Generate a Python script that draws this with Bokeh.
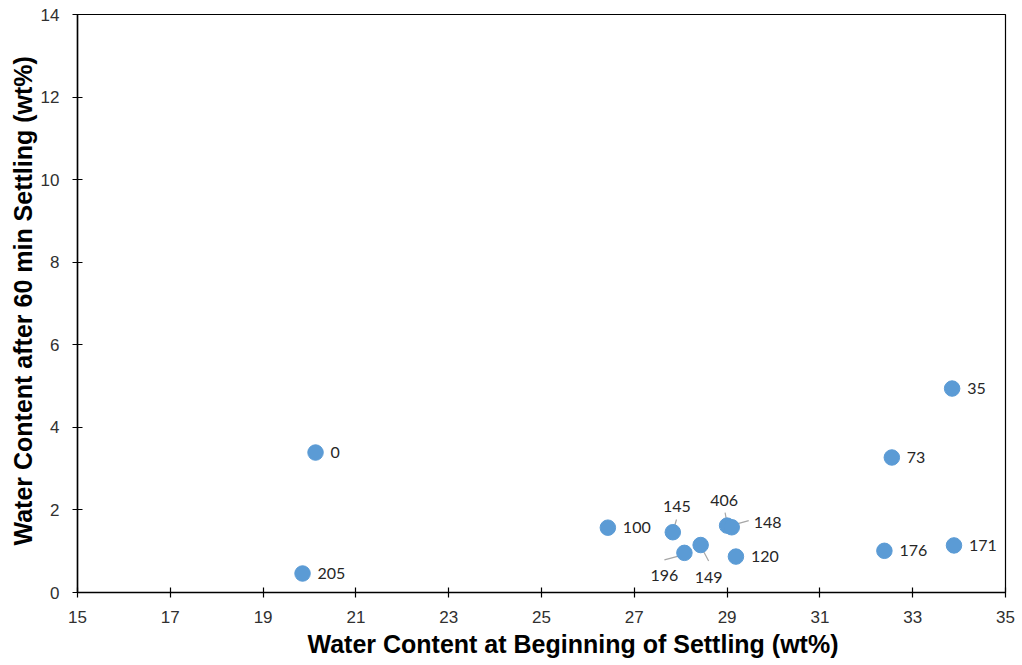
from bokeh.plotting import figure
from bokeh.models import Range1d, ColumnDataSource, FixedTicker, Title
from bokeh.core.properties import value
from bokeh.embed import file_html
from bokeh.resources import INLINE

# Sample ids and water contents (wt%)
sample_ids = ["0", "205", "100", "145", "196", "149", "406", "148", "120", "176", "73", "35", "171"]
wc_start = [20.13, 19.85, 26.43, 27.83, 28.08, 28.43, 29.00, 29.10, 29.19, 32.39, 32.55, 33.85, 33.89]
wc_60min = [3.39, 0.46, 1.57, 1.46, 0.96, 1.15, 1.62, 1.58, 0.87, 1.01, 3.27, 4.94, 1.14]

x_ticks = [15, 17, 19, 21, 23, 25, 27, 29, 31, 33, 35]
y_ticks = [0, 2, 4, 6, 8, 10, 12, 14]

x_title = "Water Content at Beginning of Settling (wt%)"
y_title = "Water Content after 60 min Settling (wt%)"

# Label placement in screen pixels (dx right, dy down) relative to each point
default_place = (15, 0, "left")
placement = {
    "145": (4, -26, "center"),
    "406": (-3, -25, "center"),
    "148": (22, -5, "left"),
    "196": (-20, 23, "center"),
    "149": (8, 32, "center"),
}
# Leader lines for crowded labels: (dx0, dy0, dx1, dy1) in screen pixels
leaders = {
    "145": (3.7, -12.7, 1, -3.7),
    "406": (-2, -13, 0, -2),
    "148": (17, -6.7, -1, -1.7),
    "196": (-20, 7, -5, 3),
    "149": (0, 1, 8, 16),
}

W, H = 1022, 665
left, right, top, bottom = 77, 17, 14, 73
x0, x1, y0, y1 = 15, 35, 0, 14
px_x = (W - left - right) / (x1 - x0)
px_y = (H - top - bottom) / (y1 - y0)

p = figure(width=W, height=H, output_backend="svg", toolbar_location=None,
           x_range=Range1d(x0, x1), y_range=Range1d(y0, y1),
           min_border_left=left, min_border_right=right,
           min_border_top=top, min_border_bottom=bottom)
p.background_fill_color = "white"
p.border_fill_color = "white"
p.outline_line_color = "black"
p.outline_line_width = 1.2
p.grid.visible = False

for ax in (p.xaxis[0], p.yaxis[0]):
    ax.axis_line_color = "black"
    ax.axis_line_width = 1.5
    ax.major_tick_line_color = "black"
    ax.major_tick_line_width = 1.2
    ax.major_tick_in = 5
    ax.major_tick_out = 5
    ax.minor_tick_line_color = None
    ax.major_label_text_font = "Liberation Sans"
    ax.major_label_text_font_size = "17px"
    ax.major_label_text_color = "#303030"

p.xaxis.ticker = FixedTicker(ticks=x_ticks)
p.yaxis.ticker = FixedTicker(ticks=y_ticks)
p.xaxis.major_label_standoff = 13
p.yaxis.major_label_standoff = 13

# Axis titles, left-aligned from the frame edge with a pixel offset
p.add_layout(Title(text=x_title, align="left", offset=230, standoff=4,
                   text_font="Liberation Sans", text_font_size="25px",
                   text_font_style="bold", text_color="black"), "below")
p.add_layout(Title(text=y_title, align="left", offset=47, standoff=2,
                   text_font="Liberation Sans", text_font_size="25px",
                   text_font_style="bold", text_color="black"), "left")

# Leader lines
lx0, ly0, lx1, ly1 = [], [], [], []
for sid, xv, yv in zip(sample_ids, wc_start, wc_60min):
    if sid in leaders:
        a, b, c, d = leaders[sid]
        lx0.append(xv + a / px_x)
        ly0.append(yv - b / px_y)
        lx1.append(xv + c / px_x)
        ly1.append(yv - d / px_y)
p.segment(lx0, ly0, lx1, ly1, line_color="#A6A6A6", line_width=1.2)

# Points
p.scatter(wc_start, wc_60min, size=15.5, fill_color="#5B9BD5", line_color="#5B9BD5")

# Point labels
tx, ty, ta = [], [], []
for sid, xv, yv in zip(sample_ids, wc_start, wc_60min):
    dx, dy, al = placement.get(sid, default_place)
    tx.append(xv + dx / px_x)
    ty.append(yv - dy / px_y)
    ta.append(al)
src = ColumnDataSource(dict(x=tx, y=ty, t=sample_ids, a=ta))
p.text(x="x", y="y", text="t", text_align="a", source=src,
       text_baseline="middle", text_font=value("Lato"),
       text_font_size="16px", text_color="#262626")

open("out.html", "w").write(file_html(p, INLINE))
